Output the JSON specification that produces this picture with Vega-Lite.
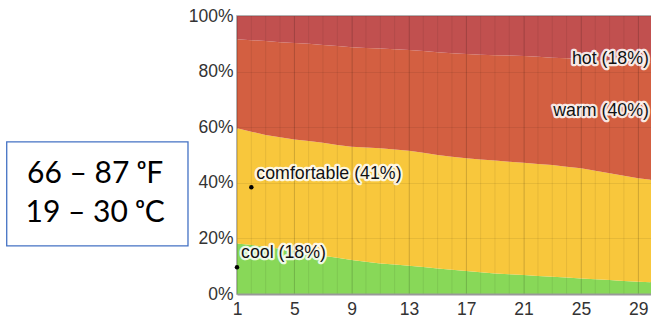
{
  "$schema": "https://vega.github.io/schema/vega-lite/v6.json",
  "width": 414,
  "height": 278,
  "autosize": {"type": "none"},
  "padding": {"left": 237, "top": 16, "right": 0, "bottom": 28},
  "background": "white",
  "config": {"view": {"stroke": "#999", "strokeWidth": 1.5}, "font": "Liberation Sans"},
  "datasets": {
    "bands": [
      {"band": "cool", "rank": 1},
      {"band": "comfortable", "rank": 2},
      {"band": "warm", "rank": 3},
      {"band": "hot", "rank": 4}
    ],
    "days": [
      {"day": 1, "cool": 18.2, "comfortable": 41.4, "warm": 32.0, "hot": 8.4},
      {"day": 2, "cool": 17.6, "comfortable": 40.8, "warm": 32.9, "hot": 8.7},
      {"day": 3, "cool": 17.0, "comfortable": 40.2, "warm": 33.8, "hot": 9.0},
      {"day": 4, "cool": 16.3, "comfortable": 40.1, "warm": 34.2, "hot": 9.4},
      {"day": 5, "cool": 15.6, "comfortable": 40.0, "warm": 34.7, "hot": 9.7},
      {"day": 6, "cool": 14.7, "comfortable": 40.3, "warm": 35.0, "hot": 10.0},
      {"day": 7, "cool": 13.8, "comfortable": 40.6, "warm": 35.2, "hot": 10.4},
      {"day": 8, "cool": 13.0, "comfortable": 40.6, "warm": 35.6, "hot": 10.8},
      {"day": 9, "cool": 12.2, "comfortable": 40.8, "warm": 35.8, "hot": 11.2},
      {"day": 10, "cool": 11.6, "comfortable": 41.1, "warm": 35.8, "hot": 11.5},
      {"day": 11, "cool": 11.0, "comfortable": 41.4, "warm": 35.9, "hot": 11.7},
      {"day": 12, "cool": 10.6, "comfortable": 41.4, "warm": 36.0, "hot": 12.0},
      {"day": 13, "cool": 10.2, "comfortable": 41.3, "warm": 36.3, "hot": 12.2},
      {"day": 14, "cool": 9.7, "comfortable": 41.1, "warm": 36.6, "hot": 12.6},
      {"day": 15, "cool": 9.2, "comfortable": 40.8, "warm": 37.0, "hot": 13.0},
      {"day": 16, "cool": 8.7, "comfortable": 40.7, "warm": 37.2, "hot": 13.4},
      {"day": 17, "cool": 8.3, "comfortable": 40.5, "warm": 37.5, "hot": 13.7},
      {"day": 18, "cool": 7.8, "comfortable": 40.6, "warm": 37.7, "hot": 13.9},
      {"day": 19, "cool": 7.4, "comfortable": 40.6, "warm": 37.9, "hot": 14.1},
      {"day": 20, "cool": 7.1, "comfortable": 40.5, "warm": 38.2, "hot": 14.2},
      {"day": 21, "cool": 6.8, "comfortable": 40.4, "warm": 38.4, "hot": 14.4},
      {"day": 22, "cool": 6.5, "comfortable": 40.3, "warm": 38.5, "hot": 14.7},
      {"day": 23, "cool": 6.2, "comfortable": 40.2, "warm": 38.6, "hot": 15.0},
      {"day": 24, "cool": 5.9, "comfortable": 39.9, "warm": 39.0, "hot": 15.2},
      {"day": 25, "cool": 5.6, "comfortable": 39.6, "warm": 39.3, "hot": 15.5},
      {"day": 26, "cool": 5.3, "comfortable": 39.0, "warm": 39.9, "hot": 15.8},
      {"day": 27, "cool": 5.0, "comfortable": 38.4, "warm": 40.6, "hot": 16.0},
      {"day": 28, "cool": 4.7, "comfortable": 37.8, "warm": 41.2, "hot": 16.3},
      {"day": 29, "cool": 4.4, "comfortable": 37.2, "warm": 41.9, "hot": 16.5},
      {"day": 30, "cool": 4.2, "comfortable": 36.8, "warm": 42.3, "hot": 16.7}
    ]
  },
  "layer": [
    {
      "data": {"name": "days"},
      "transform": [
        {"fold": ["cool", "comfortable", "warm", "hot"], "as": ["band", "share"]},
        {"lookup": "band", "from": {"data": {"name": "bands"}, "key": "band", "fields": ["rank"]}}
      ],
      "mark": {"type": "area", "clip": true, "interpolate": "linear"},
      "encoding": {
        "x": {
          "field": "day", "type": "quantitative",
          "scale": {"domain": [1, 29.89], "nice": false, "zero": false},
          "axis": {
            "values": [1, 5, 9, 13, 17, 21, 25, 29], "title": null,
            "grid": true, "gridColor": "#000", "gridOpacity": 0.1,
            "ticks": false, "labelFontSize": 17.5, "labelColor": "#333",
            "labelPadding": 6, "labelFlush": false,
            "domainColor": "#999", "domainWidth": 2, "zindex": 1
          }
        },
        "y": {
          "field": "share", "type": "quantitative", "stack": "normalize",
          "scale": {"domain": [0, 1], "nice": false},
          "axis": {
            "values": [0, 0.2, 0.4, 0.6, 0.8, 1], "format": ".0%", "title": null,
            "grid": true, "gridColor": "#000", "gridOpacity": 0.07,
            "ticks": false, "domain": false, "labelPadding": 4,
            "labelFontSize": 17.5, "labelColor": "#333", "zindex": 1
          }
        },
        "order": {"field": "rank", "type": "quantitative", "sort": "ascending"},
        "color": {
          "field": "band", "type": "nominal",
          "scale": {"domain": ["cool", "comfortable", "warm", "hot"], "range": ["#88D858", "#F8C73C", "#D35F41", "#C1504F"]},
          "legend": null
        }
      }
    },
    {
      "data": {"name": "days"},
      "mark": {"type": "rule", "clip": true, "color": "#000", "opacity": 0.075},
      "encoding": {"x": {"field": "day", "type": "quantitative"}}
    },
    {
      "data": {"values": [{}]},
      "mark": {"type": "point", "filled": true, "color": "#000", "opacity": 1, "size": 20},
      "encoding": {"x": {"datum": 2}, "y": {"datum": 0.384}}
    },
    {
      "data": {"values": [{}]},
      "mark": {"type": "point", "filled": true, "color": "#000", "opacity": 1, "size": 20},
      "encoding": {"x": {"datum": 1}, "y": {"datum": 0.096}}
    },
    {
      "data": {"values": [{}]},
      "encoding": {"x": {"datum": 2}, "y": {"datum": 0.384}, "text": {"value": "comfortable (41%)"}},
      "layer": [
        {"mark": {"type": "text", "align": "left", "baseline": "middle", "dx": 5, "dy": -13, "fontSize": 17.8, "fill": "white", "stroke": "white", "strokeWidth": 4.5, "strokeOpacity": 0.85, "strokeJoin": "round"}},
        {"mark": {"type": "text", "align": "left", "baseline": "middle", "dx": 5, "dy": -13, "fontSize": 17.8, "color": "#111"}}
      ]
    },
    {
      "data": {"values": [{}]},
      "encoding": {"x": {"datum": 1}, "y": {"datum": 0.096}, "text": {"value": "cool (18%)"}},
      "layer": [
        {"mark": {"type": "text", "align": "left", "baseline": "middle", "dx": 4, "dy": -14, "fontSize": 17.8, "fill": "white", "stroke": "white", "strokeWidth": 4.5, "strokeOpacity": 0.85, "strokeJoin": "round"}},
        {"mark": {"type": "text", "align": "left", "baseline": "middle", "dx": 4, "dy": -14, "fontSize": 17.8, "color": "#111"}}
      ]
    },
    {
      "data": {"values": [{}]},
      "encoding": {"x": {"datum": 29.75}, "y": {"datum": 0.845}, "text": {"value": "hot (18%)"}},
      "layer": [
        {"mark": {"type": "text", "align": "right", "baseline": "middle", "fontSize": 17.8, "fill": "white", "stroke": "white", "strokeWidth": 4.5, "strokeOpacity": 0.85, "strokeJoin": "round"}},
        {"mark": {"type": "text", "align": "right", "baseline": "middle", "fontSize": 17.8, "color": "#111"}}
      ]
    },
    {
      "data": {"values": [{}]},
      "encoding": {"x": {"datum": 29.75}, "y": {"datum": 0.66}, "text": {"value": "warm (40%)"}},
      "layer": [
        {"mark": {"type": "text", "align": "right", "baseline": "middle", "fontSize": 17.8, "fill": "white", "stroke": "white", "strokeWidth": 4.5, "strokeOpacity": 0.85, "strokeJoin": "round"}},
        {"mark": {"type": "text", "align": "right", "baseline": "middle", "fontSize": 17.8, "color": "#111"}}
      ]
    },
    {
      "data": {"values": [{}]},
      "mark": {"type": "rect", "fill": "white", "stroke": "#4472C4", "strokeWidth": 1.3},
      "encoding": {"x": {"datum": -15.07}, "x2": {"datum": -2.42}, "y": {"datum": 0.547}, "y2": {"datum": 0.173}}
    },
    {
      "data": {"values": [{}]},
      "mark": {"type": "text", "align": "center", "baseline": "alphabetic", "font": "Lato", "fontSize": 30, "color": "#000"},
      "encoding": {"x": {"datum": -8.9}, "y": {"datum": 0.399}, "text": {"value": "66 – 87 ᵒF"}}
    },
    {
      "data": {"values": [{}]},
      "mark": {"type": "text", "align": "center", "baseline": "alphabetic", "font": "Lato", "fontSize": 30, "color": "#000"},
      "encoding": {"x": {"datum": -8.9}, "y": {"datum": 0.26}, "text": {"value": "19 – 30 ᵒC"}}
    }
  ]
}
